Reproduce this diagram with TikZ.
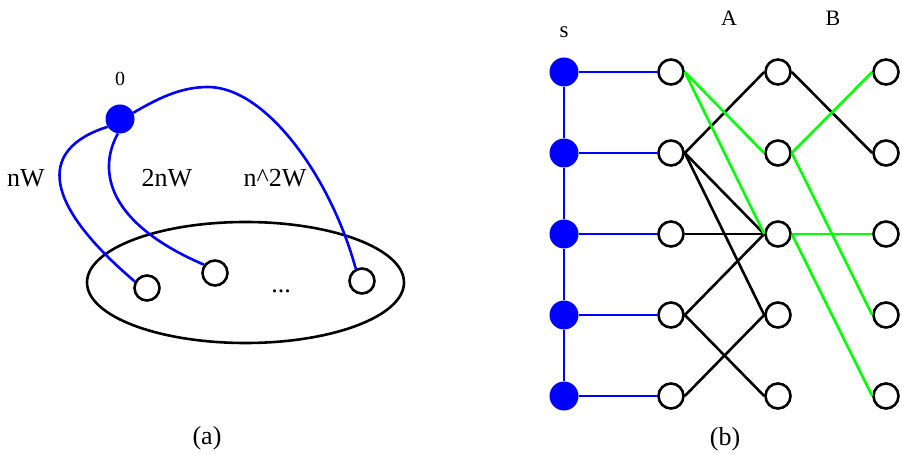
\documentclass[tikz,border=0pt]{standalone}
\usepackage{fontspec}
\setmainfont{Liberation Serif}
\usetikzlibrary{shapes.geometric}
\definecolor{myblue}{RGB}{0,0,255}
\definecolor{mygreen}{RGB}{0,255,0}
\begin{document}
\begin{tikzpicture}[x=1pt,y=-1pt,
  opn/.style={circle,draw=black,line width=2.6pt,minimum size=25pt,inner sep=0pt,fill=white},
  fil/.style={circle,fill=myblue,minimum size=29pt,inner sep=0pt},
  bl/.style={draw=myblue,line width=2.6pt},
  gr/.style={draw=mygreen,line width=2.6pt},
  bk/.style={draw=black,line width=2.6pt},
  lbl/.style={inner sep=0pt,font=\fontsize{26}{28}\selectfont},
  lbls/.style={inner sep=0pt,font=\fontsize{22}{24}\selectfont}]
\useasboundingbox (0,0) rectangle (902,454);
% ---------- (a) ----------
\node[ellipse,draw=black,line width=2.6pt,minimum width=317pt,minimum height=121pt,inner sep=0pt] (ell) at (245.5,282.5) {};
\node[fil] (n0) at (120,119) {};
\node[opn] (c1) at (147,288) {};
\node[opn] (c2) at (215,273) {};
\node[opn] (c3) at (362,281) {};
\node[lbls,font=\fontsize{20}{22}\selectfont] (l0) at (120,79) {0};
\node[lbl] (lnw) at (26,178) {nW};
\node[lbl] (l2nw) at (167,178) {2nW};
\node[lbl] (ln2w) at (275,178) {n\textasciicircum 2W};
\node[lbl,anchor=base] (dots) at (281,293) {...};
\node[lbl] (la) at (207,438) {(a)};
\draw[bl] (n0.212) .. controls (35,150) and (45,205) .. (c1.152);
\draw[bl] (n0.262) .. controls (100,165) and (100,220) .. (c2.143);
\draw[bl] (n0.25) .. controls (157,99) and (180,87) .. (208,87)
  .. controls (265,87) and (330,175) .. (c3.117);
% ---------- (b) ----------
\foreach \i/\y in {0/72,1/153,2/234,3/315,4/396}{
  \node[fil] (s\i) at (564,\y) {};
  \node[opn] (a\i) at (671,\y) {};
  \node[opn] (b\i) at (778,\y) {};
  \node[opn] (c\i) at (886,\y) {};
}
\node[lbls,font=\fontsize{23}{25}\selectfont] (ls) at (564,32) {s};
\node[lbls] (lA) at (729,18) {A};
\node[lbls] (lB) at (833,18) {B};
\node[lbl] (lb) at (725,439) {(b)};
\draw[bl] (s0) -- (s1) -- (s2) -- (s3) -- (s4);
\foreach \i in {0,...,4}{ \draw[bl] (s\i) -- (a\i.west); }
% black edges col1 -> col2
\draw[bk] (a1.east) -- (b0.west);
\draw[bk] (a1.east) -- (b2.west);
\draw[bk] (a1.east) -- (b3.west);
\draw[bk] (a2.east) -- (b2.west);
\draw[bk] (a3.east) -- (b2.west);
\draw[bk] (a3.east) -- (b4.west);
\draw[bk] (a4.east) -- (b3.west);
% black col2 -> col3
\draw[bk] (b0.east) -- (c1.west);
% green edges
\draw[gr] (a0.east) -- (b1.west);
\draw[gr] (a0.east) -- (b2.west);
\draw[gr] (b1.east) -- (c0.west);
\draw[gr] (b1.east) -- (c3.west);
\draw[gr] (b2.east) -- (c2.west);
\draw[gr] (b2.east) -- (c4.west);
\end{tikzpicture}
\end{document}
